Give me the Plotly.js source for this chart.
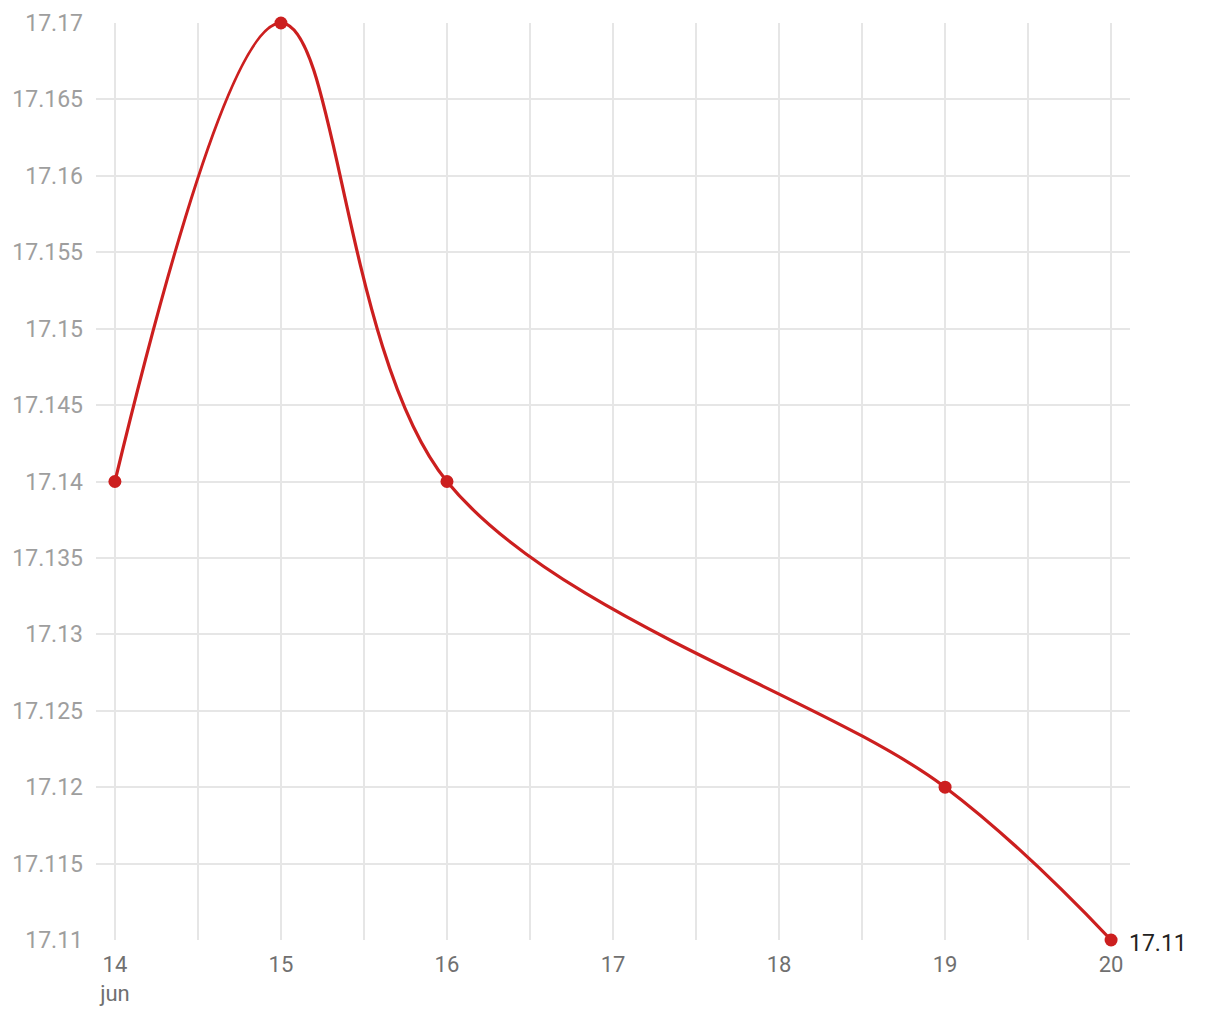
<!DOCTYPE html>
<html>
<head>
<meta charset="utf-8">
<script src="https://cdn.plot.ly/plotly-3.0.1.min.js"></script>
<style>html,body{margin:0;padding:0;background:#fff;}#chart{width:1220px;height:1020px;}</style>
</head>
<body>
<div id="chart"></div>
<script>
const dates = ['2024-06-14', '2024-06-15', '2024-06-16', '2024-06-19', '2024-06-20'];
const values = [17.14, 17.17, 17.14, 17.12, 17.11];

const xTickVals = ['2024-06-14', '2024-06-14 12:00', '2024-06-15', '2024-06-15 12:00', '2024-06-16', '2024-06-16 12:00',
  '2024-06-17', '2024-06-17 12:00', '2024-06-18', '2024-06-18 12:00', '2024-06-19', '2024-06-19 12:00', '2024-06-20'];
const xTickText = ['14<br>jun', '', '15', '', '16', '', '17', '', '18', '', '19', '', '20'];

const yTickVals = [17.11, 17.115, 17.12, 17.125, 17.13, 17.135, 17.14, 17.145, 17.15, 17.155, 17.16, 17.165, 17.17];
const yTickText = ['17.11', '17.115', '17.12', '17.125', '17.13', '17.135', '17.14', '17.145', '17.15', '17.155', '17.16', '17.165', '17.17'];

const lineColor = '#cc1f1f';

const trace = {
  x: dates,
  y: values,
  type: 'scatter',
  mode: 'lines+markers',
  line: {color: lineColor, width: 3.2, shape: 'spline', smoothing: 1},
  marker: {color: lineColor, size: 13},
  cliponaxis: false,
  hoverinfo: 'x+y'
};

const layout = {
  width: 1220,
  height: 1020,
  margin: {l: 96, r: 90, t: 23, b: 80},
  paper_bgcolor: '#ffffff',
  plot_bgcolor: '#ffffff',
  showlegend: false,
  font: {family: 'Roboto, sans-serif'},
  xaxis: {
    type: 'date',
    range: ['2024-06-13 21:16', '2024-06-20 02:44'],
    tickmode: 'array',
    tickvals: xTickVals,
    ticktext: xTickText,
    showgrid: true,
    gridcolor: '#e6e6e6',
    gridwidth: 2,
    zeroline: false,
    showline: false,
    ticks: '',
    tickfont: {family: 'Roboto, sans-serif', size: 22, color: '#707070'},
    ticklabelstandoff: 9,
    fixedrange: true
  },
  yaxis: {
    range: [17.11, 17.17],
    tickmode: 'array',
    tickvals: yTickVals,
    ticktext: yTickText,
    showgrid: true,
    gridcolor: '#e6e6e6',
    gridwidth: 2,
    zeroline: false,
    showline: false,
    ticks: '',
    tickfont: {family: 'Roboto, sans-serif', size: 23, color: '#9e9e9e'},
    ticklabelstandoff: 12,
    fixedrange: true
  },
  annotations: [{
    x: dates[dates.length - 1],
    y: values[values.length - 1],
    xref: 'x', yref: 'y',
    text: String(values[values.length - 1]),
    showarrow: false,
    xanchor: 'left',
    yanchor: 'middle',
    xshift: 16,
    yshift: -3,
    font: {family: 'Roboto, sans-serif', size: 23, color: '#222222'}
  }]
};

Plotly.newPlot('chart', [trace], layout, {displayModeBar: false, staticPlot: false});
</script>
</body>
</html>
